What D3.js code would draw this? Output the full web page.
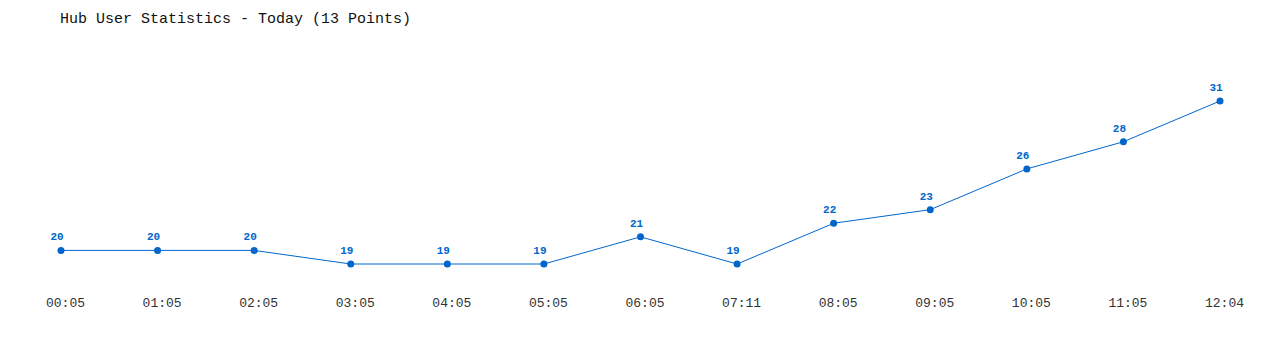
<!DOCTYPE html>
<html>
<head>
<meta charset="utf-8">
<script src="https://cdn.jsdelivr.net/npm/d3@7"></script>
<style>
  body { margin: 0; background: #fff; }
  svg { display: block; }
  .titel { font-family: "Liberation Mono", "DejaVu Sans Mono", monospace; font-size: 15px; fill: #111; }
  .vrijednost { font-family: "Liberation Mono", "DejaVu Sans Mono", monospace; font-size: 11px; font-weight: bold; fill: #0066cc; }
  .vrijeme { font-family: "Liberation Mono", "DejaVu Sans Mono", monospace; font-size: 13px; fill: #333; }
</style>
</head>
<body>
<div id="okvir"></div>
<script>
const vremena = ["00:05","01:05","02:05","03:05","04:05","05:05","06:05","07:11","08:05","09:05","10:05","11:05","12:04"]
const korisnici = [20,20,20,19,19,19,21,19,22,23,26,28,31]

const sirina = 1280
const visina = 350

const okvir = d3.select("#okvir")
  .append("svg")
  .attr("width", sirina)
  .attr("height", visina)

okvir.append("text")
  .attr("class", "titel")
  .attr("x", 60)
  .attr("y", 23)
  .text("Hub User Statistics - Today (13 Points)")

const xSkala = d3.scalePoint()
  .domain(vremena)
  .range([61, 1220])

const ySkala = d3.scaleLinear()
  .domain([19, 31])
  .range([264, 101])

const boja = "#0066cc"

const linija = d3.line()
  .x((d, i) => xSkala(vremena[i]))
  .y(d => ySkala(d))

okvir.append("path")
  .datum(korisnici)
  .attr("d", linija)
  .attr("fill", "none")
  .attr("stroke", boja)
  .attr("stroke-width", 1)

okvir.selectAll(".tocka")
  .data(korisnici)
  .enter().append("circle")
    .attr("class", "tocka")
    .attr("cx", (d, i) => xSkala(vremena[i]))
    .attr("cy", d => ySkala(d))
    .attr("r", 3.5)
    .attr("fill", boja)

okvir.selectAll(".vrijednost")
  .data(korisnici)
  .enter().append("text")
    .attr("class", "vrijednost")
    .attr("x", (d, i) => xSkala(vremena[i]) - 4)
    .attr("y", d => ySkala(d) - 10)
    .attr("text-anchor", "middle")
    .text(d => d)

// os x bez linije, samo oznake
const osX = d3.axisBottom(xSkala).tickSize(0).tickPadding(0)
const osGrupa = okvir.append("g")
  .attr("transform", "translate(4, 298)")
  .call(osX)
osGrupa.select(".domain").remove()
osGrupa.selectAll("text")
  .attr("class", "vrijeme")
  .attr("fill", null)
  .attr("font-family", null)
  .attr("font-size", null)
</script>
</body>
</html>
